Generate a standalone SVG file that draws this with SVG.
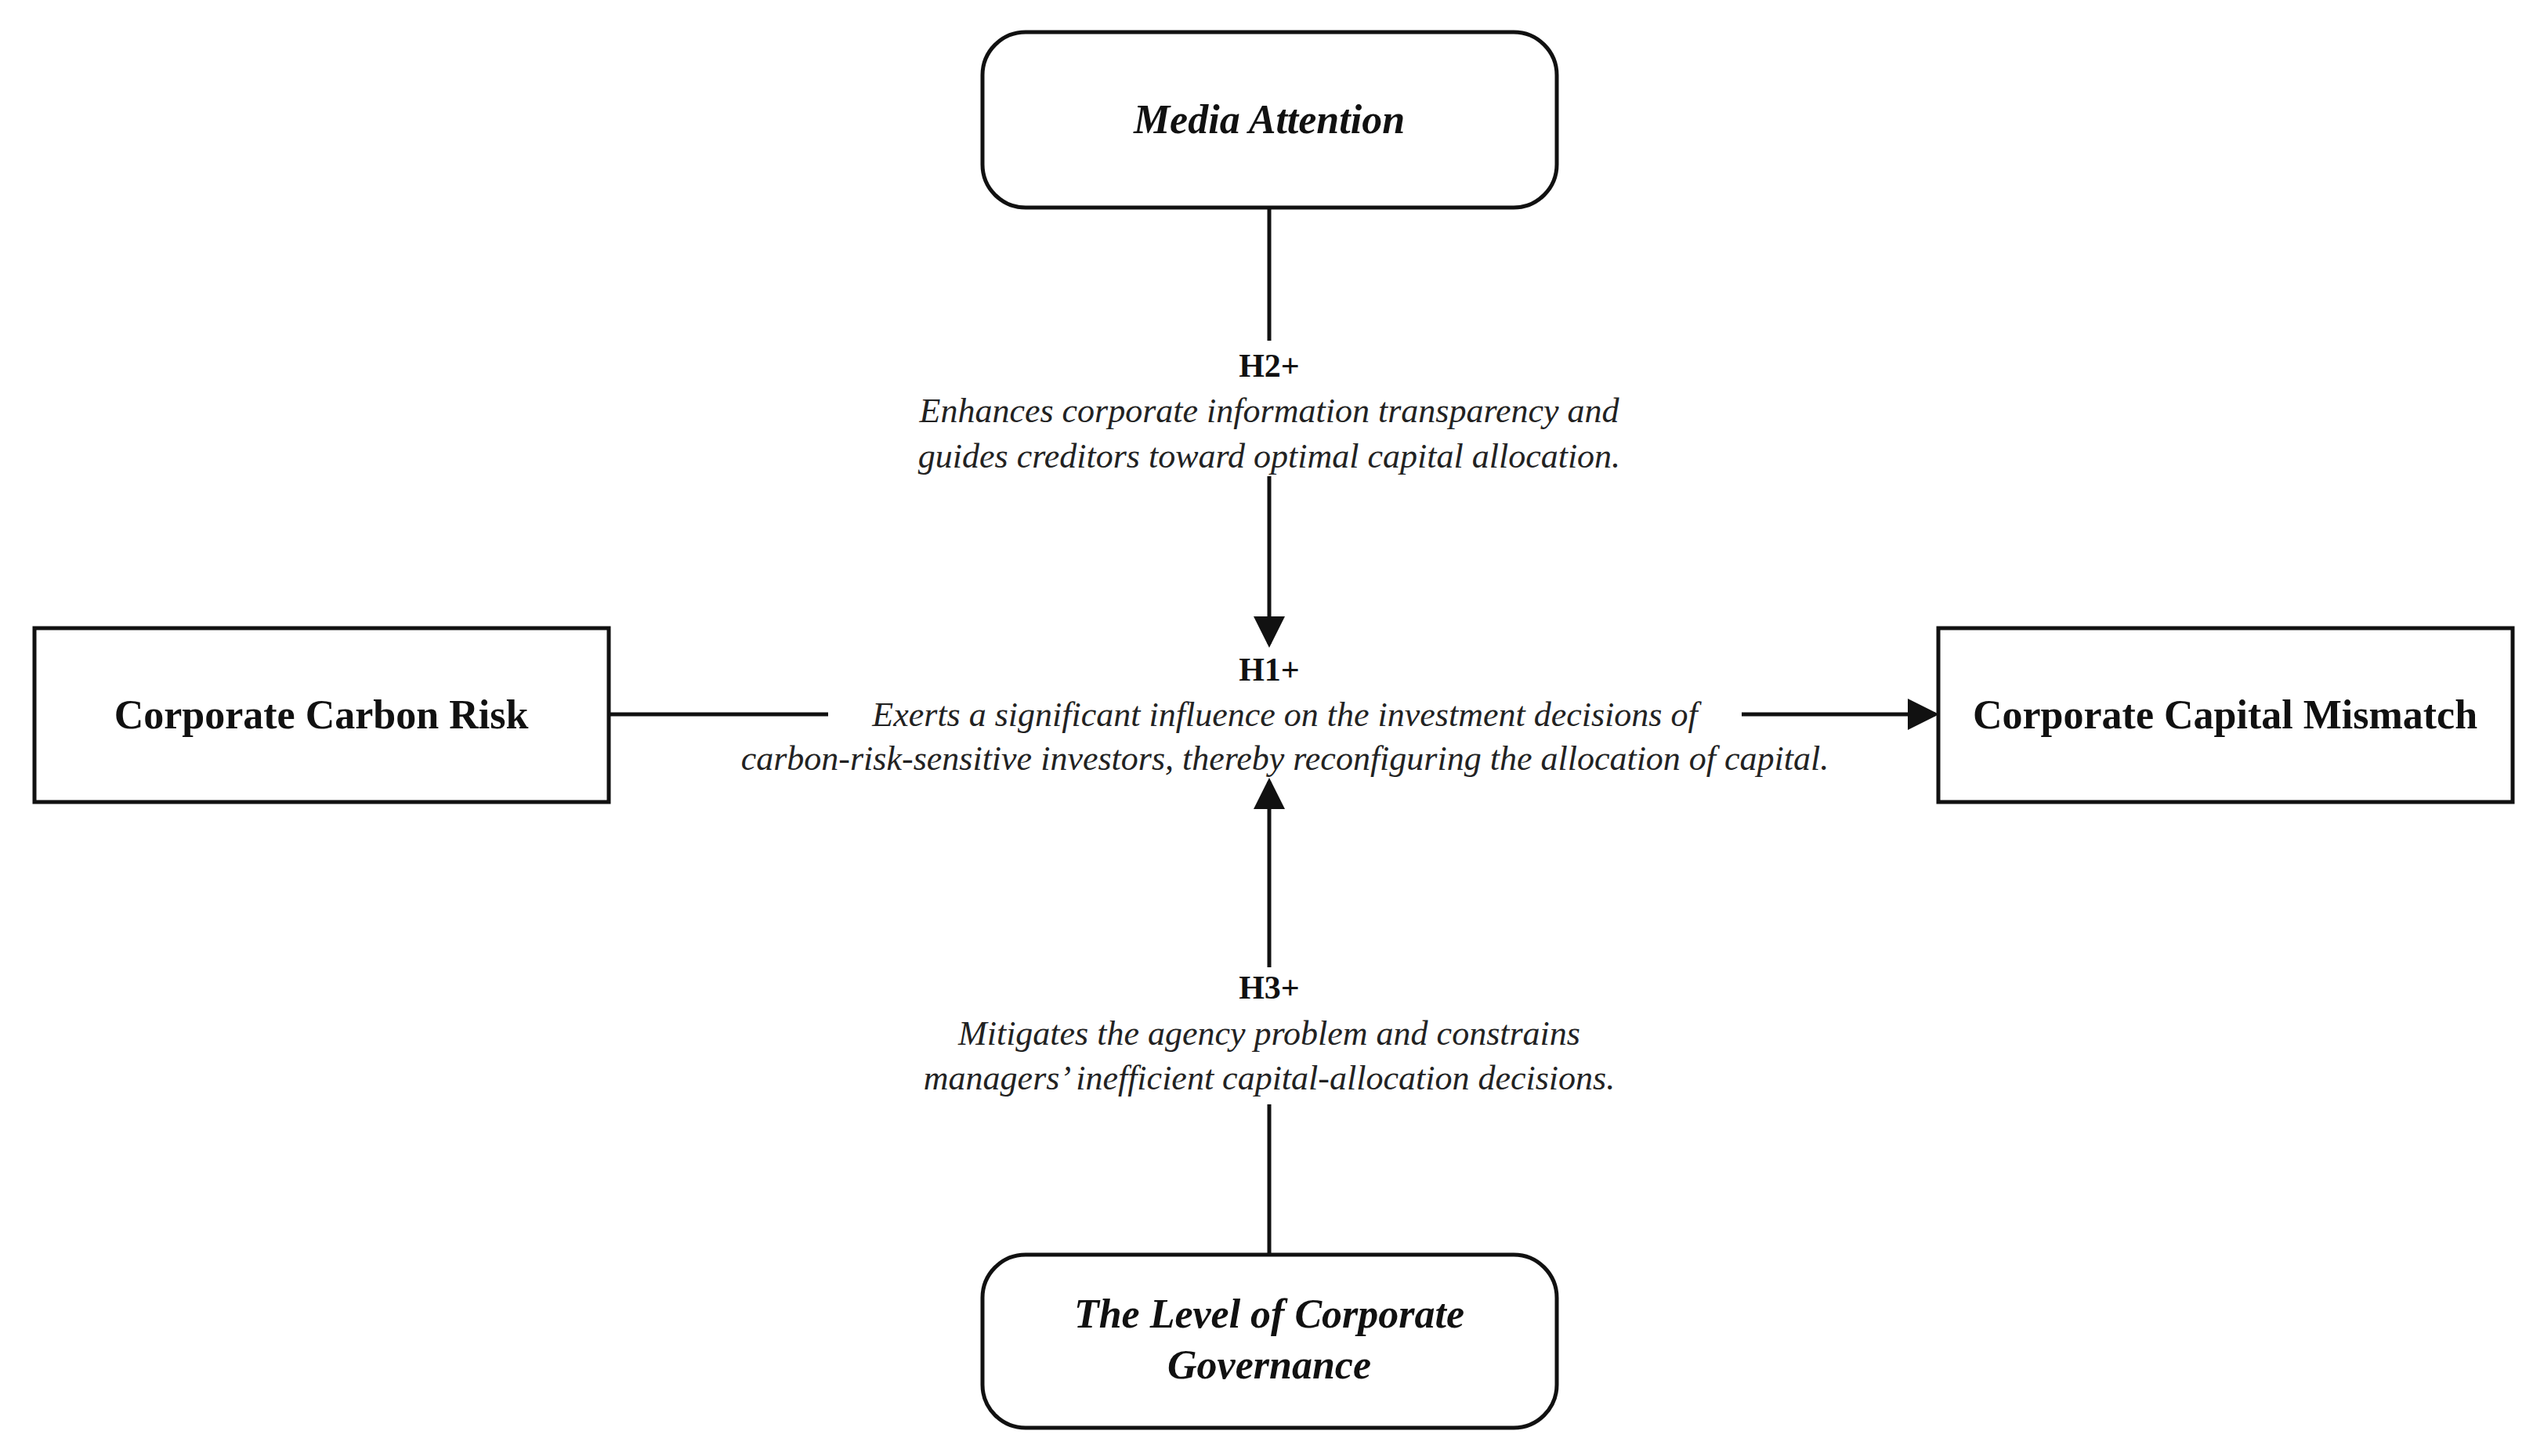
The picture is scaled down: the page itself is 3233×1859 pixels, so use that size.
<svg xmlns="http://www.w3.org/2000/svg" width="3233" height="1859" viewBox="0 0 3233 1859">
<style>
.box{fill:#fff;stroke:#111;stroke-width:5}
.t{font-family:"Liberation Serif",serif;font-weight:bold;font-size:52px;fill:#111;text-anchor:middle}
.ti{font-style:italic}
.h{font-family:"Liberation Serif",serif;font-weight:bold;font-size:42px;fill:#111;text-anchor:middle}
.l{font-family:"Liberation Serif",serif;font-style:italic;font-size:44px;fill:#222;text-anchor:middle}
.c{stroke:#111;stroke-width:5;fill:none}
</style>
<defs><marker id="a" markerWidth="8" markerHeight="8" refX="7" refY="4" orient="auto" markerUnits="strokeWidth"><path d="M0,0L8,4L0,8z" fill="#111"/></marker></defs>
<rect width="3233" height="1859" fill="#fff"/>
<g id="connectors">
<line class="c" x1="1620" y1="265" x2="1620" y2="435"/>
<line class="c" x1="1620" y1="608" x2="1620" y2="822" marker-end="url(#a)"/>
<line class="c" x1="777" y1="912" x2="1057" y2="912"/>
<line class="c" x1="2223" y1="912" x2="2470" y2="912" marker-end="url(#a)"/>
<line class="c" x1="1620" y1="1602" x2="1620" y2="1410"/>
<line class="c" x1="1620" y1="1235" x2="1620" y2="998" marker-end="url(#a)"/>
<text class="h" x="1620" y="481">H2+</text>
<text class="l" x="1620" y="539">Enhances corporate information transparency and</text>
<text class="l" x="1620" y="597">guides creditors toward optimal capital allocation.</text>
<text class="h" x="1620" y="869">H1+</text>
<text class="l" x="1640" y="927">Exerts a significant influence on the investment decisions of</text>
<text class="l" x="1640" y="983">carbon-risk-sensitive investors, thereby reconfiguring the allocation of capital.</text>
<text class="h" x="1620" y="1275">H3+</text>
<text class="l" x="1620" y="1334">Mitigates the agency problem and constrains</text>
<text class="l" x="1620" y="1391">managers’ inefficient capital-allocation decisions.</text>
</g>
<g id="media"><rect class="box" x="1254" y="41" width="733" height="224" rx="55"/><text class="t ti" x="1620" y="170">Media Attention</text></g>
<g id="carbon"><rect class="box" x="44" y="802" width="733" height="222"/><text class="t" x="410" y="930">Corporate Carbon Risk</text></g>
<g id="mismatch"><rect class="box" x="2474" y="802" width="733" height="222"/><text class="t" x="2840" y="930">Corporate Capital Mismatch</text></g>
<g id="gov"><rect class="box" x="1254" y="1602" width="733" height="221" rx="55"/><text class="t ti" x="1620" y="1695">The Level of Corporate</text><text class="t ti" x="1620" y="1760">Governance</text></g>
</svg>
